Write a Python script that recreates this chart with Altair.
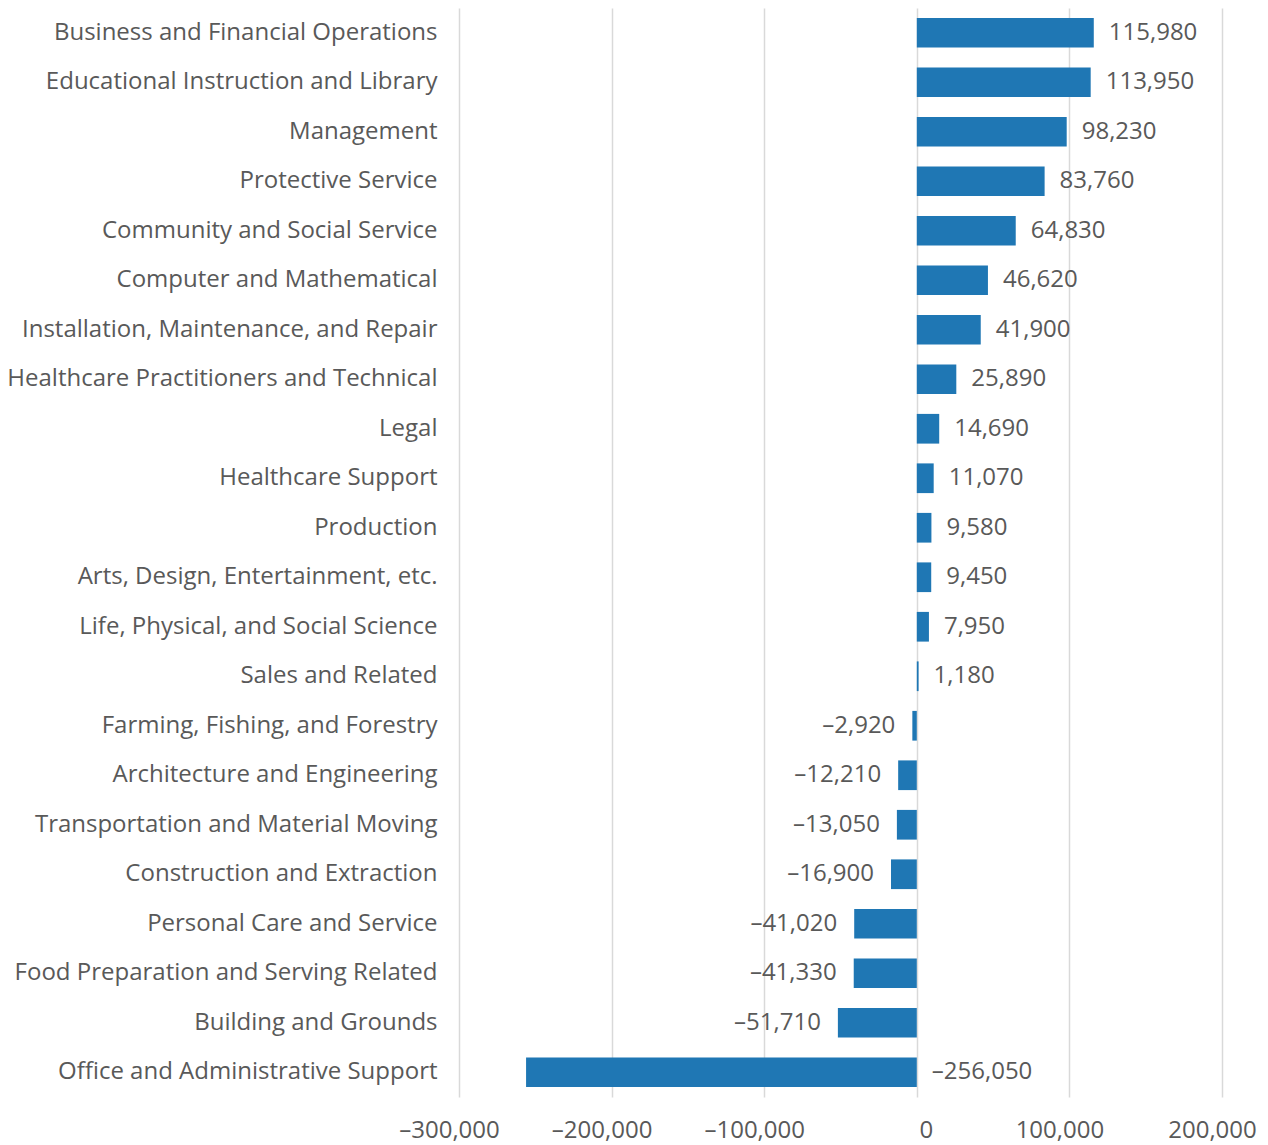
import altair as alt
import pandas as pd

categories = [
    "Business and Financial Operations",
    "Educational Instruction and Library",
    "Management",
    "Protective Service",
    "Community and Social Service",
    "Computer and Mathematical",
    "Installation, Maintenance, and Repair",
    "Healthcare Practitioners and Technical",
    "Legal",
    "Healthcare Support",
    "Production",
    "Arts, Design, Entertainment, etc.",
    "Life, Physical, and Social Science",
    "Sales and Related",
    "Farming, Fishing, and Forestry",
    "Architecture and Engineering",
    "Transportation and Material Moving",
    "Construction and Extraction",
    "Personal Care and Service",
    "Food Preparation and Serving Related",
    "Building and Grounds",
    "Office and Administrative Support",
]
values = [115980, 113950, 98230, 83760, 64830, 46620, 41900, 25890, 14690, 11070,
          9580, 9450, 7950, 1180, -2920, -12210, -13050, -16900, -41020, -41330,
          -51710, -256050]
# label placed at the bar's base (inside end) instead of outside end
label_at_base = [False] * 21 + [True]

x_ticks = [-300000, -200000, -100000, 0, 100000, 200000]

def fmt(v):
    s = f"{abs(v):,}"
    return ("\u2013" + s) if v < 0 else s

df = pd.DataFrame({"cat": categories, "value": values, "base": label_at_base})
df["label"] = [fmt(v) for v in values]
df["zero"] = 0
df["outside_left"] = (df["value"] >= 0) | df["base"]
df["anchor"] = [0 if b else v for v, b in zip(values, label_at_base)]

FONT = "Open Sans"
TXT = "#595959"
FS = 24

xscale = alt.Scale(domain=[-300000, 200000], nice=False, zero=False)
yenc = alt.Y("cat:N", sort=categories, title=None,
             scale=alt.Scale(paddingInner=0.4, paddingOuter=0.2),
             axis=alt.Axis(ticks=False, domain=False, labelPadding=22,
                           labelFontSize=FS, labelFont=FONT, labelColor=TXT,
                           labelLimit=600))

bars = alt.Chart(df).mark_bar(color="#1F77B4").encode(
    x=alt.X("value:Q", scale=xscale, title=None,
            axis=alt.Axis(values=x_ticks, ticks=False, domain=False, grid=True,
                          gridColor="#D9D9D9", gridWidth=1.5,
                          labelPadding=21, labelFontSize=FS, labelFont=FONT,
                          labelColor=TXT, labelFlush=False,
                          labelOffset={"condition": {"test": "datum.value == 0", "value": 9}, "value": -10},
                          labelExpr="datum.value < 0 ? '\u2013' + format(abs(datum.value), ',') : format(datum.value, ',')")),
    x2="zero:Q",
    y=yenc,
)

lab_left = alt.Chart(df).transform_filter("datum.outside_left").mark_text(
    align="left", baseline="middle", dx=15, font=FONT, fontSize=FS, color=TXT
).encode(x=alt.X("anchor:Q", scale=xscale), y=alt.Y("cat:N", sort=categories), text="label:N")

lab_right = alt.Chart(df).transform_filter("!datum.outside_left").mark_text(
    align="right", baseline="middle", dx=-17, font=FONT, fontSize=FS, color=TXT
).encode(x=alt.X("anchor:Q", scale=xscale), y=alt.Y("cat:N", sort=categories), text="label:N")

chart = alt.layer(bars, lab_left, lab_right).properties(
    width=763, height=1089,
    background="white",
    autosize=alt.AutoSizeParams(type="none"),
    padding={"left": 451, "top": 0, "right": 38, "bottom": 46},
).configure_view(strokeWidth=0)

chart.save("out.html", embed_options={"renderer": "svg", "actions": False})
